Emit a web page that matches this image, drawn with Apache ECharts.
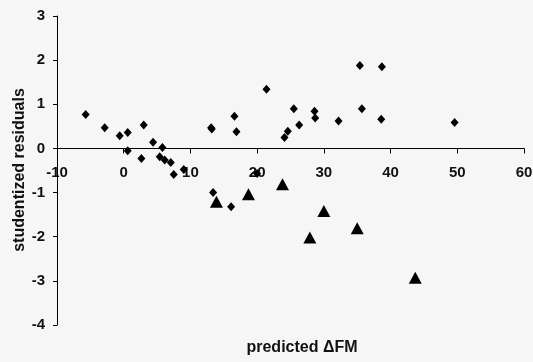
<!DOCTYPE html>
<html>
<head>
<meta charset="utf-8">
<script src="https://cdn.jsdelivr.net/npm/echarts@6/dist/echarts.min.js"></script>
<style>
  html, body { margin: 0; padding: 0; background: #f6f6f6; }
  #main { width: 533px; height: 362px; }
</style>
</head>
<body>
<div id="main"></div>
<script>
// diamonds: all observations
var diamondX = [-5.7, -2.85, -0.6, 0.6, 0.6, 3.0, 2.65, 4.4, 5.8, 5.4, 6.15, 7.05, 7.5, 9.0,
  13.1, 13.2, 16.6, 16.9, 21.4, 24.1, 24.6, 25.5, 26.3, 28.6, 28.7, 32.2, 35.4, 35.7,
  38.7, 38.6, 49.6, 13.4, 16.1, 20.0];
var diamondY = [0.77, 0.47, 0.29, 0.36, -0.05, 0.53, -0.23, 0.14, 0.02, -0.19, -0.26, -0.32, -0.59, -0.48,
  0.47, 0.44, 0.73, 0.38, 1.34, 0.25, 0.39, 0.9, 0.53, 0.84, 0.69, 0.62, 1.88, 0.9,
  1.85, 0.66, 0.59, -1.0, -1.32, -0.57];
// triangles
var triangleX = [13.9, 18.7, 23.8, 27.9, 30.0, 35.0, 43.7];
var triangleY = [-1.21, -1.04, -0.81, -2.02, -1.42, -1.81, -2.93];

var xTitle = 'predicted \u0394FM';
var yTitle = 'studentized residuals';

function pairs(xs, ys) {
  return xs.map(function (x, i) { return [x, ys[i]]; });
}

var chart = echarts.init(document.getElementById('main'));
var tickFont = { fontFamily: 'Liberation Sans', fontWeight: 700, fontSize: 15, color: '#111' };

// grid is 16..325 px tall for -4..3, so y=0 sits 4/7 of the way up
var gridTop = 16, gridBottom = 37, plotH = 362 - gridTop - gridBottom;

chart.setOption({
  backgroundColor: '#f6f6f6',
  animation: false,
  grid: {
    left: 57, right: 9, top: gridTop, bottom: gridBottom,
    containLabel: false, outerBoundsMode: 'none'
  },
  xAxis: {
    type: 'value',
    min: -10, max: 60, interval: 10,
    offset: -plotH * 4 / 7,
    axisLine: { onZero: false, lineStyle: { color: '#000', width: 1 } },
    axisTick: { show: true, length: 5, lineStyle: { color: '#000' } },
    axisLabel: Object.assign({ margin: 17 }, tickFont),
    splitLine: { show: false }
  },
  yAxis: {
    type: 'value',
    min: -4, max: 3, interval: 1,
    axisLine: { show: true, onZero: false, lineStyle: { color: '#000', width: 1 } },
    axisTick: { show: true, length: 4, lineStyle: { color: '#000' } },
    axisLabel: Object.assign({ margin: 12 }, tickFont),
    splitLine: { show: false }
  },
  // axis titles as plain text
  graphic: [{
    type: 'text',
    x: 302, y: 348,
    style: {
      text: xTitle,
      align: 'center', verticalAlign: 'middle',
      font: 'bold 16px "Liberation Sans"',
      fill: '#111'
    }
  }, {
    type: 'text',
    x: 20, y: 170,
    rotation: Math.PI / 2,
    style: {
      text: yTitle,
      align: 'center', verticalAlign: 'middle',
      font: 'bold 16px "Liberation Sans"',
      fill: '#111'
    }
  }],
  series: [
    {
      type: 'scatter',
      symbol: 'diamond',
      symbolSize: [8, 9],
      itemStyle: { color: '#000', opacity: 1 },
      data: pairs(diamondX, diamondY)
    },
    {
      type: 'scatter',
      symbol: 'triangle',
      symbolSize: [13, 12],
      itemStyle: { color: '#000', opacity: 1 },
      data: pairs(triangleX, triangleY)
    }
  ]
});
</script>
</body>
</html>
